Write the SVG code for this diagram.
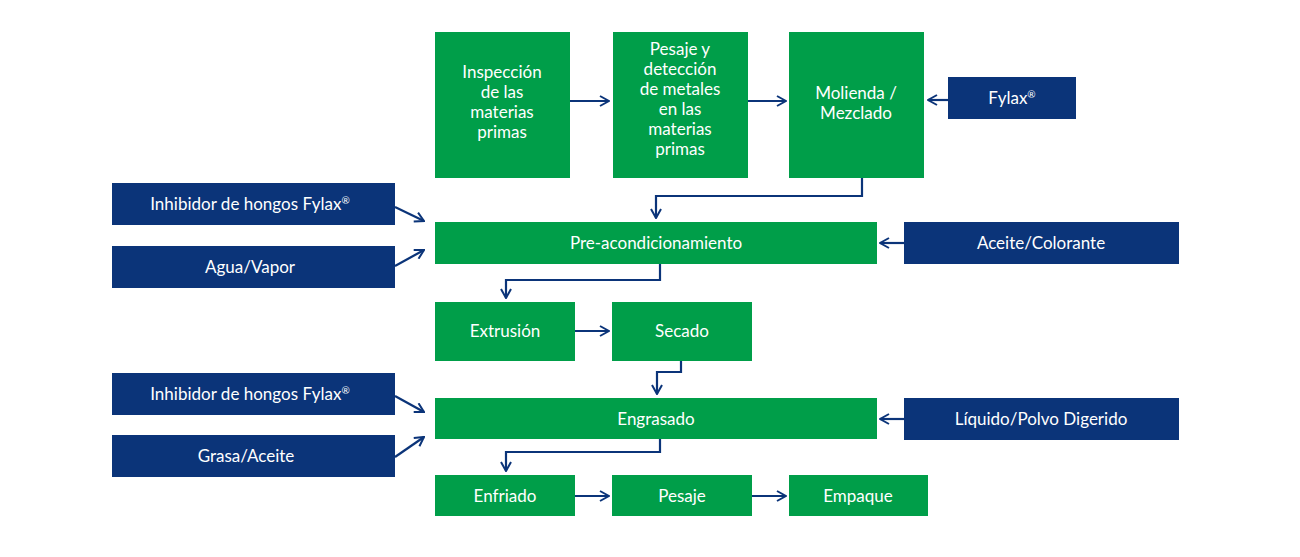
<svg xmlns="http://www.w3.org/2000/svg" width="1300" height="557" viewBox="0 0 1300 557">
<style>
.g{fill:#009e49}.b{fill:#0b3479}
text{font-family:"Lato","Liberation Sans",sans-serif;font-size:17px;fill:#fff;text-anchor:middle}
.c path{fill:none;stroke:#0b3479;stroke-width:2.2;marker-end:url(#a)}
</style>
<defs><marker id="a" viewBox="0 0 12 12" refX="11" refY="6" markerWidth="12" markerHeight="12" markerUnits="userSpaceOnUse" orient="auto"><path d="M2,1 L11,6 L2,11" fill="none" stroke="#0b3479" stroke-width="2"/></marker></defs>
<rect width="1300" height="557" fill="#fff"/>
<g id="n1"><rect class="g" x="435" y="32" width="135" height="146"/><text x="502" y="78">Inspección</text><text x="502" y="98">de las</text><text x="502" y="118">materias</text><text x="502" y="138">primas</text></g>
<g id="n2"><rect class="g" x="613" y="32" width="135" height="146"/><text x="680" y="55">Pesaje y</text><text x="680" y="75">detección</text><text x="680" y="95">de metales</text><text x="680" y="115">en las</text><text x="680" y="135">materias</text><text x="680" y="155">primas</text></g>
<g id="n3"><rect class="g" x="789" y="32" width="135" height="146"/><text x="856" y="99">Molienda /</text><text x="856" y="119">Mezclado</text></g>
<g id="n4"><rect class="b" x="948" y="77" width="128" height="42"/><text x="1012" y="104">Fylax<tspan font-size="10" dy="-6">®</tspan></text></g>
<g id="n5"><rect class="b" x="112" y="183" width="283" height="42"/><text x="250" y="210">Inhibidor de hongos Fylax<tspan font-size="10" dy="-6">®</tspan></text></g>
<g id="n6"><rect class="b" x="112" y="246" width="283" height="42"/><text x="250" y="273">Agua/Vapor</text></g>
<g id="n7"><rect class="g" x="435" y="222" width="442" height="42"/><text x="656" y="249">Pre-acondicionamiento</text></g>
<g id="n8"><rect class="b" x="904" y="222" width="275" height="42"/><text x="1041" y="249">Aceite/Colorante</text></g>
<g id="n9"><rect class="g" x="435" y="302" width="140" height="59"/><text x="505" y="337">Extrusión</text></g>
<g id="n10"><rect class="g" x="612" y="302" width="140" height="59"/><text x="682" y="337">Secado</text></g>
<g id="n11"><rect class="b" x="112" y="373" width="283" height="42"/><text x="250" y="400">Inhibidor de hongos Fylax<tspan font-size="10" dy="-6">®</tspan></text></g>
<g id="n12"><rect class="b" x="112" y="435" width="283" height="42"/><text x="246" y="462">Grasa/Aceite</text></g>
<g id="n13"><rect class="g" x="435" y="398" width="442" height="41"/><text x="656" y="425">Engrasado</text></g>
<g id="n14"><rect class="b" x="904" y="398" width="275" height="42"/><text x="1041" y="425">Líquido/Polvo Digerido</text></g>
<g id="n15"><rect class="g" x="435" y="475" width="140" height="41"/><text x="505" y="502">Enfriado</text></g>
<g id="n16"><rect class="g" x="612" y="475" width="140" height="41"/><text x="682" y="502">Pesaje</text></g>
<g id="n17"><rect class="g" x="789" y="475" width="139" height="41"/><text x="858" y="502">Empaque</text></g>
<g class="c" id="connectors">
<path d="M570,101 H609"/><path d="M748,101 H786"/><path d="M948,100 H928"/>
<path d="M862,178 V196 H656 V218"/>
<path d="M660,264 V280 H506 V298"/>
<path d="M681,361 V372 H657 V394"/>
<path d="M660,439 V452 H506 V471"/>
<path d="M575,331 H609"/><path d="M575,496 H609"/><path d="M752,496 H786"/>
<path d="M395,207 L424,221"/><path d="M395,266 L424,250"/>
<path d="M395,396 L424,412"/><path d="M395,457 L424,437"/>
<path d="M904,243 H880"/><path d="M904,419 H880"/>
</g>
</svg>
